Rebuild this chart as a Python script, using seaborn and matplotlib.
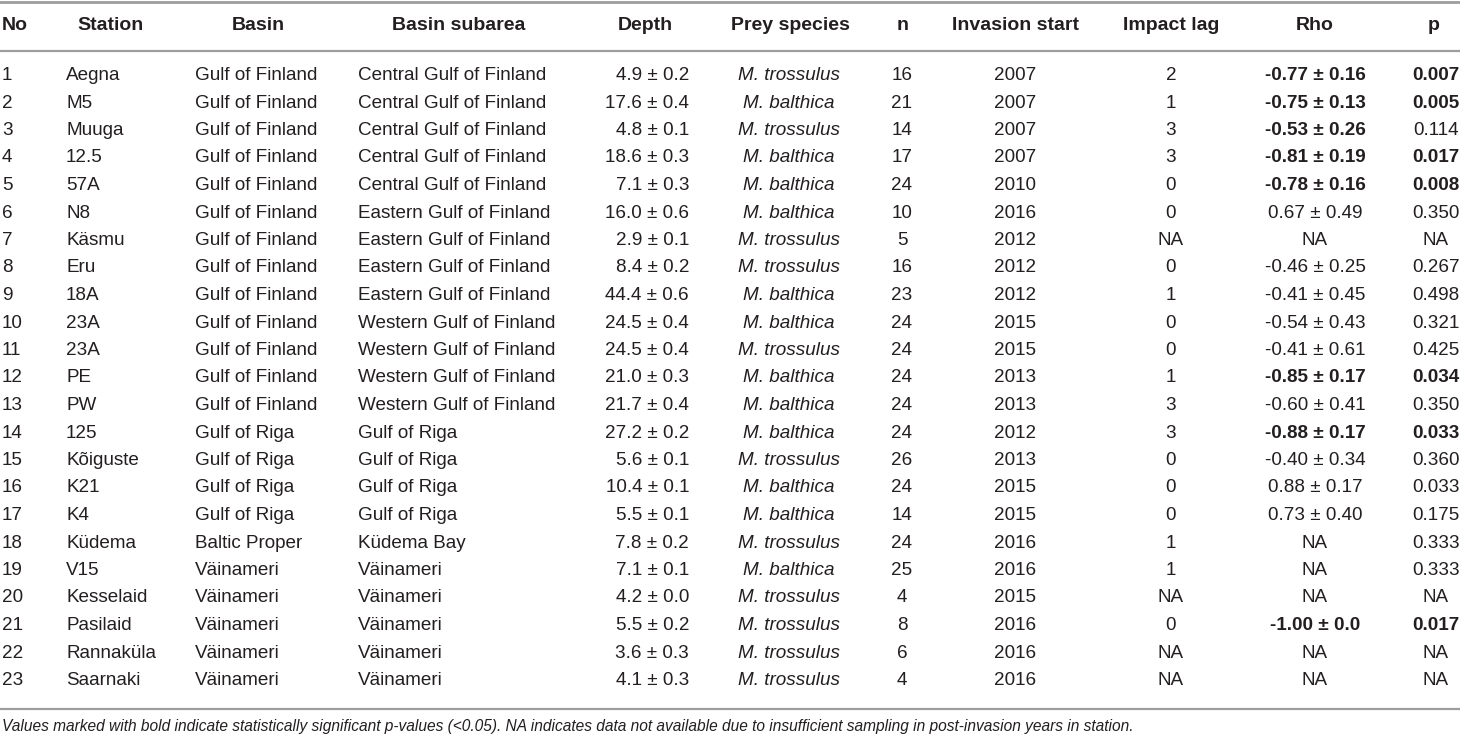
import matplotlib
matplotlib.use("Agg")
import matplotlib.pyplot as plt
import seaborn as sns

# table contents
no = list(range(1, 24))
station = ["Aegna", "M5", "Muuga", "12.5", "57A", "N8", "Käsmu", "Eru", "18A", "23A", "23A",
           "PE", "PW", "125", "Kõiguste", "K21", "K4", "Küdema", "V15", "Kesselaid",
           "Pasilaid", "Rannaküla", "Saarnaki"]
basin = ["Gulf of Finland"] * 13 + ["Gulf of Riga"] * 4 + ["Baltic Proper"] + ["Väinameri"] * 5
subarea = (["Central Gulf of Finland"] * 5 + ["Eastern Gulf of Finland"] * 4
           + ["Western Gulf of Finland"] * 4 + ["Gulf of Riga"] * 4 + ["Küdema Bay"]
           + ["Väinameri"] * 5)
depth = ["4.9 ± 0.2", "17.6 ± 0.4", "4.8 ± 0.1", "18.6 ± 0.3", "7.1 ± 0.3", "16.0 ± 0.6",
         "2.9 ± 0.1", "8.4 ± 0.2", "44.4 ± 0.6", "24.5 ± 0.4", "24.5 ± 0.4", "21.0 ± 0.3",
         "21.7 ± 0.4", "27.2 ± 0.2", "5.6 ± 0.1", "10.4 ± 0.1", "5.5 ± 0.1", "7.8 ± 0.2",
         "7.1 ± 0.1", "4.2 ± 0.0", "5.5 ± 0.2", "3.6 ± 0.3", "4.1 ± 0.3"]
prey = ["M. trossulus", "M. balthica", "M. trossulus", "M. balthica", "M. balthica",
        "M. balthica", "M. trossulus", "M. trossulus", "M. balthica", "M. balthica",
        "M. trossulus", "M. balthica", "M. balthica", "M. balthica", "M. trossulus",
        "M. balthica", "M. balthica", "M. trossulus", "M. balthica", "M. trossulus",
        "M. trossulus", "M. trossulus", "M. trossulus"]
n = [16, 21, 14, 17, 24, 10, 5, 16, 23, 24, 24, 24, 24, 24, 26, 24, 14, 24, 25, 4, 8, 6, 4]
invasion = [2007, 2007, 2007, 2007, 2010, 2016, 2012, 2012, 2012, 2015, 2015, 2013, 2013,
            2012, 2013, 2015, 2015, 2016, 2016, 2015, 2016, 2016, 2016]
lag = ["2", "1", "3", "3", "0", "0", "NA", "0", "1", "0", "0", "1", "3", "3", "0", "0", "0",
       "1", "1", "NA", "0", "NA", "NA"]
rho = ["-0.77 ± 0.16", "-0.75 ± 0.13", "-0.53 ± 0.26", "-0.81 ± 0.19", "-0.78 ± 0.16",
       "0.67 ± 0.49", "NA", "-0.46 ± 0.25", "-0.41 ± 0.45", "-0.54 ± 0.43", "-0.41 ± 0.61",
       "-0.85 ± 0.17", "-0.60 ± 0.41", "-0.88 ± 0.17", "-0.40 ± 0.34", "0.88 ± 0.17",
       "0.73 ± 0.40", "NA", "NA", "NA", "-1.00 ± 0.0", "NA", "NA"]
p = ["0.007", "0.005", "0.114", "0.017", "0.008", "0.350", "NA", "0.267", "0.498", "0.321",
     "0.425", "0.034", "0.350", "0.033", "0.360", "0.033", "0.175", "0.333", "0.333", "NA",
     "0.017", "NA", "NA"]
rho_bold = [1, 2, 3, 4, 5, 12, 14, 21]
p_bold = [1, 2, 4, 5, 12, 14, 21]

headers = ["No", "Station", "Basin", "Basin subarea", "Depth", "Prey species", "n",
           "Invasion start", "Impact lag", "Rho", "p"]
footnote = ("Values marked with bold indicate statistically significant p-values (<0.05). "
            "NA indicates data not available due to insufficient sampling in post-invasion "
            "years in station.")

sns.set_theme(style="white")
plt.rcParams["font.family"] = ["Liberation Sans", "DejaVu Sans"]

TXT = "#231f20"
RULE = "#9d9d9d"

fig = plt.figure(figsize=(14.6, 7.35), dpi=100)
ax = fig.add_axes([0, 0, 1, 1])
ax.set_xlim(0, 1460)
row_h = 27.5
ax.set_ylim((735 - 75.5) / row_h, -75.5 / row_h)
ax.axis("off")

# (header x, header ha, data x, data ha)
cols = [(2, "left", 2, "left"), (110, "center", 66, "left"), (258, "center", 195, "left"),
        (459, "center", 358, "left"), (645, "center", 689, "right"),
        (790, "center", 789, "center"), (903, "center", 902, "center"),
        (1016, "center", 1015, "center"), (1171, "center", 1171, "center"),
        (1315, "center", 1315, "center"), (1434, "center", 1436, "center")]

header_y = (26 - 75.5) / row_h
for h, (hx, hha, _, _) in zip(headers, cols):
    ax.text(hx, header_y, h, ha=hha, va="center", fontsize=14, fontweight="bold", color=TXT)

data = [no, station, basin, subarea, depth, prey, n, invasion, lag, rho, p]
fs = 13.6
for ci, (values, (_, _, dx, dha)) in enumerate(zip(data, cols)):
    for ri, v in enumerate(values):
        weight = "normal"
        if ci == 9 and no[ri] in rho_bold:
            weight = "bold"
        if ci == 10 and no[ri] in p_bold:
            weight = "bold"
        style = "italic" if ci == 5 else "normal"
        ax.text(dx, ri, str(v), ha=dha, va="center", fontsize=fs, fontweight=weight,
                fontstyle=style, color=TXT)

# rules
for py, lw in [(1.5, 2.0), (51, 1.6), (709, 1.6)]:
    ax.axhline((py - 75.5) / row_h, color=RULE, lw=lw)

ax.text(2, (727 - 75.5) / row_h, footnote, ha="left", va="center", fontsize=11.2,
        fontstyle="italic", color=TXT)

fig.savefig("out.png", dpi=100)
